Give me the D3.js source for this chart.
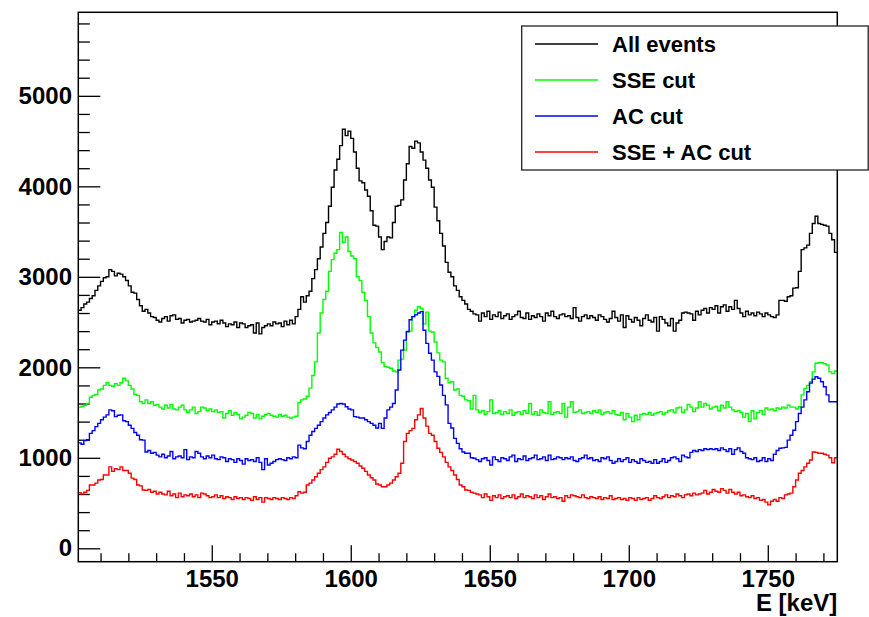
<!DOCTYPE html>
<html>
<head>
<meta charset="utf-8">
<script src="https://cdn.jsdelivr.net/npm/d3@7"></script>
<style>
  body { margin: 0; background: white; }
  svg text { font-family: "Liberation Sans", Arial, sans-serif; font-weight: bold; }
</style>
</head>
<body>
<div id="chart"></div>
<script>
// histogram: 1 keV bins starting at 1502 keV
const binStart = 1502;
const binWidth = 1;

const xTicks = [1550, 1600, 1650, 1700, 1750];
const yTicks = [0, 1000, 2000, 3000, 4000, 5000];

const seriesNames = ["All events", "SSE cut", "AC cut", "SSE + AC cut"];
const seriesColors = ["#000000", "#00ff00", "#0000ff", "#ff0000"];

const allEvents = [
  2630, 2660, 2700, 2720, 2760, 2790, 2850, 2900, 2950, 2990,
  3000, 3080, 3060, 3010, 3040, 3030, 3000, 2960, 2900, 2830,
  2820, 2750, 2680, 2620, 2640, 2600, 2560, 2550, 2520, 2500,
  2540, 2560, 2510, 2570, 2580, 2530, 2540, 2490, 2520, 2530,
  2500, 2510, 2520, 2540, 2510, 2500, 2530, 2470, 2500, 2510,
  2480, 2520, 2490, 2450, 2480, 2470, 2500, 2440, 2490, 2480,
  2440, 2460, 2470, 2380, 2490, 2370, 2440, 2460, 2480, 2460,
  2500, 2480, 2490, 2450, 2510, 2470, 2520, 2480, 2560, 2640,
  2780, 2720, 2790, 2840, 2980, 3080, 3200, 3330, 3480, 3600,
  3780, 3990, 4180, 4300, 4450, 4630, 4560, 4610, 4530, 4380,
  4200, 4060, 4040, 3960, 3890, 3730, 3570, 3560, 3440, 3300,
  3390, 3440, 3430, 3600, 3780, 3790, 3850, 4070, 4250, 4440,
  4420, 4500, 4480, 4380, 4290, 4200, 4070, 3990, 3770, 3620,
  3480, 3340, 3160, 3050, 3000, 2900, 2850, 2780, 2740, 2700,
  2640, 2620, 2590, 2580, 2510, 2600, 2560, 2620, 2530, 2580,
  2560, 2610, 2540, 2570, 2590, 2530, 2560, 2580, 2620, 2550,
  2540, 2600, 2530, 2570, 2550, 2590, 2560, 2510, 2600, 2570,
  2620, 2560, 2540, 2580, 2590, 2560, 2570, 2540, 2660, 2550,
  2510, 2560, 2580, 2540, 2570, 2550, 2520, 2580, 2560, 2530,
  2500, 2540, 2620, 2550, 2510, 2580, 2440, 2570, 2530, 2500,
  2550, 2520, 2460, 2540, 2580, 2520, 2500, 2550, 2400, 2560,
  2530, 2490, 2460, 2540, 2400, 2490, 2520, 2600, 2610, 2600,
  2590, 2520, 2620, 2580, 2630, 2650, 2600, 2660, 2640, 2680,
  2600, 2670, 2690, 2620, 2670, 2640, 2740, 2650, 2600, 2560,
  2620, 2580, 2600, 2570, 2610, 2590, 2560, 2600, 2580, 2560,
  2550, 2580, 2740, 2740, 2730, 2780, 2790, 2875, 2880, 3060,
  3300, 3320, 3350, 3480, 3590, 3670, 3590, 3580, 3570, 3560,
  3480, 3410, 3270
];

const sseCut = [
  1560, 1570, 1580, 1600, 1670, 1690, 1700, 1750, 1760, 1800,
  1830, 1800, 1790, 1820, 1800, 1830, 1880, 1850, 1800, 1760,
  1700, 1690, 1620, 1600, 1640, 1600, 1620, 1580, 1590, 1560,
  1540, 1580, 1550, 1590, 1540, 1530, 1560, 1580, 1530, 1500,
  1530, 1560, 1490, 1510, 1560, 1550, 1520, 1540, 1510, 1530,
  1500, 1510, 1440, 1490, 1520, 1470, 1500, 1480, 1430, 1450,
  1470, 1500, 1490, 1440, 1480, 1430, 1460, 1480, 1490, 1470,
  1460, 1450, 1480, 1460, 1470, 1450, 1440, 1450, 1460, 1610,
  1640, 1650, 1680, 1770, 1910, 2060, 2380, 2600, 2750, 2840,
  3060, 3190, 3260, 3300, 3490, 3380, 3440, 3280, 3230, 3200,
  3000, 2960, 2830, 2740, 2560, 2380, 2270, 2220, 2170, 2050,
  2010, 2000, 1990, 1960, 1950, 2080, 2090, 2190, 2390, 2400,
  2560, 2630, 2670, 2650, 2480, 2610, 2400, 2390, 2280, 2160,
  2080, 2060, 1880, 1830, 1840, 1750, 1760, 1690, 1680, 1640,
  1630, 1540, 1690, 1530, 1500, 1520, 1480, 1510, 1640, 1490,
  1500, 1520, 1480, 1510, 1490, 1530, 1470, 1500, 1510, 1480,
  1520, 1490, 1600, 1480, 1510, 1470, 1530, 1500, 1490, 1620,
  1480, 1500, 1510, 1490, 1600, 1450, 1560, 1620, 1500, 1510,
  1530, 1490, 1500, 1510, 1490, 1520, 1500, 1530, 1480, 1500,
  1510, 1490, 1520, 1480, 1470, 1500, 1420, 1490, 1450, 1400,
  1470, 1420, 1480, 1490, 1480, 1500, 1470, 1490, 1500, 1510,
  1480, 1500, 1520, 1530, 1500, 1550, 1560, 1500, 1530, 1590,
  1560, 1510, 1550, 1620, 1560, 1600, 1580, 1540, 1560, 1570,
  1520, 1580, 1550, 1620, 1560, 1530, 1510, 1520, 1500, 1450,
  1490, 1400, 1520, 1430, 1500, 1520, 1480, 1550, 1530, 1540,
  1520, 1550, 1540, 1560, 1550, 1580, 1560, 1560, 1540, 1565,
  1695, 1765, 1800, 1840, 1950, 2045, 2050, 2050, 2040, 2025,
  1950, 1930, 1960
];

const acCut = [
  1165, 1150, 1190, 1200, 1270, 1300, 1345, 1380, 1420, 1450,
  1475, 1530, 1520, 1455, 1470, 1475, 1410, 1400, 1360, 1325,
  1280, 1250, 1200, 1195, 1065, 1080, 1050, 1060, 1030, 1010,
  1040, 1000, 1020, 1070, 990, 1010, 1020, 1000, 1090, 980,
  1010, 1000, 1070, 1050, 1010, 990, 1020, 1000, 1030, 990,
  980, 1010, 1000, 960, 990, 980, 950, 990, 970, 930,
  990, 970, 980, 960, 1000, 950, 870, 990, 920, 940,
  960, 980, 990, 980, 970, 1000, 990, 1010, 1000, 1140,
  1110, 1100, 1180, 1250, 1290, 1325, 1360, 1400, 1440, 1475,
  1500, 1530, 1560, 1595, 1600, 1595, 1565, 1540, 1530, 1455,
  1450, 1440, 1440, 1420, 1400, 1380, 1360, 1330, 1380, 1325,
  1440, 1530, 1560, 1600, 1750, 1970, 2190, 2300, 2395, 2525,
  2560, 2580, 2600, 2615, 2410, 2265, 2155, 2080, 1950, 1900,
  1805, 1690, 1585, 1380, 1330, 1215, 1160, 1100, 1065, 1050,
  1050, 1000, 995, 980, 960, 990, 1000, 970, 920, 1010,
  980, 960, 1000, 990, 970, 1010, 1030, 960, 990, 980,
  1020, 970, 990, 1000, 1030, 980, 990, 1010, 970, 1030,
  980, 990, 1010, 1000, 980, 1000, 990, 1010, 970, 960,
  990, 1000, 1030, 990, 1000, 970, 980, 960, 1000, 990,
  1010, 970, 940, 960, 990, 960, 980, 1000, 950, 980,
  960, 940, 990, 970, 950, 960, 940, 980, 940, 960,
  990, 950, 970, 1000, 1010, 990, 960, 1030, 1010, 1000,
  1060, 1080, 1070, 1090, 1080, 1100, 1090, 1100, 1090, 1100,
  1080, 1110, 1090, 1070, 1100, 1040, 1090, 1110, 1070, 1050,
  1000, 990, 980, 1000, 960, 970, 1000, 960, 990, 970,
  1040, 1080, 1105, 1110, 1115, 1195, 1250, 1305, 1400, 1490,
  1560, 1640, 1730, 1825, 1870, 1895, 1880, 1840, 1785, 1695,
  1620, 1620, 1620
];

const sseAcCut = [
  615, 600, 620, 640, 700, 700, 720, 755, 760, 810,
  810, 900, 850, 880, 870, 900, 860, 860, 830, 775,
  760, 700, 690, 645, 640, 650, 620, 630, 600, 620,
  600, 590, 630, 580, 600, 560, 610, 570, 590, 580,
  600, 570, 590, 560, 610, 600, 580, 560, 570, 590,
  560, 580, 550, 570, 560, 540, 570, 550, 560, 540,
  560, 550, 530, 570, 540, 560, 510, 560, 550, 540,
  560, 550, 540, 560, 550, 540, 560, 550, 580, 625,
  610, 620, 700, 720, 755, 790, 830, 870, 900, 950,
  995, 1010, 1040, 1095, 1070, 1040, 1010, 990, 975, 960,
  940, 910, 885, 850, 810, 780, 755, 710, 700, 680,
  680, 700, 720, 755, 790, 830, 940, 1180, 1270, 1300,
  1325, 1420, 1475, 1545, 1440, 1350, 1270, 1250, 1180, 1105,
  1060, 1010, 950, 900, 860, 810, 760, 700, 680, 645,
  640, 620, 610, 600, 590, 560, 600, 570, 530, 580,
  560, 590, 550, 570, 580, 560, 590, 550, 570, 600,
  560, 580, 570, 550, 590, 560, 580, 540, 570, 600,
  560, 570, 550, 560, 520, 580, 560, 590, 580, 570,
  560, 590, 560, 550, 570, 560, 550, 570, 540, 560,
  550, 580, 540, 550, 560, 540, 550, 530, 560, 550,
  530, 560, 540, 550, 560, 530, 550, 580, 560, 550,
  570, 590, 560, 580, 570, 600, 580, 560, 590, 600,
  580, 610, 590, 600, 610, 640, 600, 620, 650, 630,
  620, 660, 640, 610, 650, 620, 600, 620, 580, 590,
  570, 560, 580, 550, 560, 530, 540, 510, 480, 520,
  540, 520, 560, 550, 590, 600, 610, 680, 755, 830,
  860, 900, 940, 975, 1065, 1060, 1050, 1050, 1040, 1030,
  1000, 945, 1000
];

const seriesValues = [allEvents, sseCut, acCut, sseAcCut];

class SpectrumChart {

    constructor(section) {
        this.section = section;
        this.width = 869;
        this.height = 617;

        // frame edges (ROOT pad margins)
        this.left = 78.3;
        this.right = 837.3;
        this.top = 12.3;
        this.bottom = 561.7;

        this.init();
    }

    init() {
        this.svg = d3.select(this.section)
            .append("svg")
            .attr("width", this.width)
            .attr("height", this.height);

        this.x = d3.scaleLinear()
            .domain([1502, 1775])
            .range([this.left, this.right]);

        this.y = d3.scaleLinear()
            .domain([-148, 5923])
            .range([this.bottom, this.top]);

        this.drawAxes();
        this.drawHistograms();
        this.drawFrame();
        this.drawLegend();
    }

    drawAxes() {
        const x = this.x, y = this.y;

        // minor ticks first, then majors with labels
        const xMinor = d3.range(1510, 1775, 10).filter(v => v % 50 !== 0);
        this.svg.append("g")
            .attr("transform", `translate(0,${this.bottom})`)
            .call(d3.axisBottom(x).tickValues(xMinor).tickSize(-8.5).tickFormat(""))
            .call(g => g.select(".domain").remove());

        this.svg.append("g")
            .attr("transform", `translate(0,${this.bottom})`)
            .call(d3.axisBottom(x).tickValues(xTicks).tickSize(-16.5).tickPadding(8.6).tickFormat(d3.format("d")))
            .call(g => g.select(".domain").remove())
            .call(g => g.selectAll("text")
                .attr("fill", "black")
                .style("font-size", "24px"));

        const yMinor = d3.range(200, 5900, 200).filter(v => v % 1000 !== 0);
        this.svg.append("g")
            .attr("transform", `translate(${this.left},0)`)
            .call(d3.axisLeft(y).tickValues(yMinor).tickSize(-11.5).tickFormat(""))
            .call(g => g.select(".domain").remove());

        this.svg.append("g")
            .attr("transform", `translate(${this.left},0)`)
            .call(d3.axisLeft(y).tickValues(yTicks).tickSize(-22).tickPadding(6.3).tickFormat(d3.format("d")))
            .call(g => g.select(".domain").remove())
            .call(g => g.selectAll("text")
                .attr("fill", "black")
                .style("font-size", "24px"));

        this.svg.selectAll(".tick line")
            .attr("stroke", "black")
            .attr("stroke-width", 1.3);

        // axis title
        this.svg.append("text")
            .attr("x", this.right)
            .attr("y", 611)
            .attr("text-anchor", "end")
            .style("font-size", "24px")
            .text("E [keV]");
    }

    stepPath(values) {
        const x = this.x, y = this.y;
        const pts = [];
        values.forEach((v, i) => {
            const x0 = binStart + i * binWidth;
            pts.push([x(x0), y(v)]);
            pts.push([x(x0 + binWidth), y(v)]);
        });
        return d3.line()(pts);
    }

    drawHistograms() {
        this.svg.selectAll(".hist")
            .data(seriesValues)
            .enter()
            .append("path")
            .attr("class", "hist")
            .attr("d", d => this.stepPath(d))
            .attr("fill", "none")
            .attr("stroke", (d, i) => seriesColors[i])
            .attr("stroke-width", 1.4);
    }

    drawFrame() {
        this.svg.append("rect")
            .attr("x", this.left)
            .attr("y", this.top)
            .attr("width", this.right - this.left)
            .attr("height", this.bottom - this.top)
            .attr("fill", "none")
            .attr("stroke", "black")
            .attr("stroke-width", 1.5);
    }

    drawLegend() {
        const lg = this.svg.append("g");

        lg.append("rect")
            .attr("x", 521.7)
            .attr("y", 26)
            .attr("width", 346.5)
            .attr("height", 144)
            .attr("fill", "white")
            .attr("stroke", "#222")
            .attr("stroke-width", 1.3);

        const rowY = [44, 80, 116, 152];

        const rows = lg.selectAll(".entry")
            .data(seriesNames)
            .enter()
            .append("g")
            .attr("class", "entry")
            .attr("transform", (d, i) => `translate(0,${rowY[i]})`);

        rows.append("line")
            .attr("x1", 535)
            .attr("x2", 598)
            .attr("stroke", (d, i) => seriesColors[i])
            .attr("stroke-width", 1.3);

        rows.append("text")
            .attr("x", 612)
            .attr("dy", "0.36em")
            .style("font-size", "22px")
            .text(d => d);
    }
}

new SpectrumChart("#chart");
</script>
</body>
</html>
